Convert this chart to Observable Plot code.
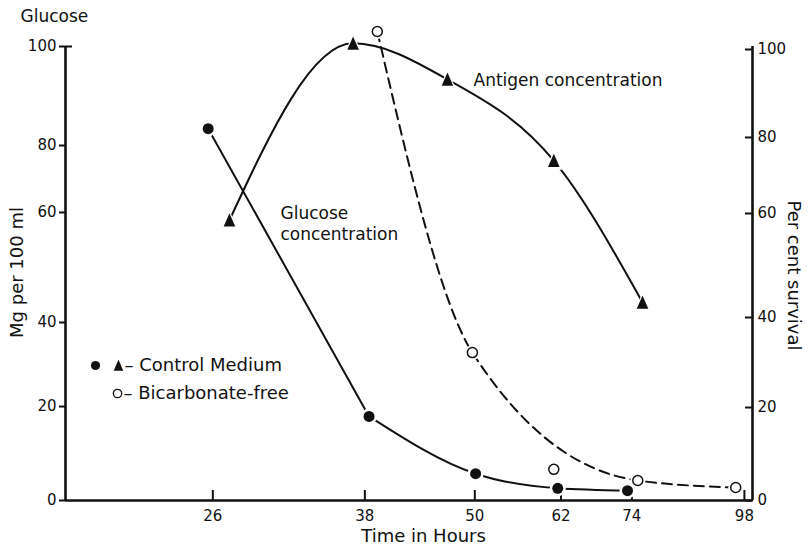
<!DOCTYPE html>
<html>
<head>
<meta charset="utf-8">
<script src="https://cdn.jsdelivr.net/npm/d3@7"></script>
<script src="https://cdn.jsdelivr.net/npm/@observablehq/plot@0.6"></script>
<style>
  html, body { margin: 0; padding: 0; background: #fff; }
  svg { display: block; }
</style>
</head>
<body>
<div id="chart"></div>
<script>
// ---- Tick labels ----
const hoursTicks = [26, 38, 50, 62, 74, 98];
const glucoseTicks = [0, 20, 40, 60, 80, 100];
const survivalTicks = [0, 20, 40, 60, 80, 100];

// ---- Control medium: glucose, mg per 100 ml (left axis) ----
const glucoseHours  = [25.7, 38.4, 50.1, 61.5, 73.2];
const glucoseValues = [83.4, 17.9, 5.7, 2.6, 2.1];

// ---- Control medium: antigen, per cent survival (right axis) ----
const antigenHours  = [27.1, 36.9, 46.7, 60.9, 76.0];
const antigenValues = [58.7, 101.4, 93.2, 73.9, 42.9];

// ---- Bicarbonate-free, per cent survival (right axis) ----
const bicarbHours   = [39.2, 49.7, 60.9, 75.1, 95.9];
const bicarbValues  = [104.1, 32.2, 6.7, 4.3, 2.8];
const bicarbOnCurve = [true, true, false, true, true];

// ---- Scale configuration: the original's hand-drawn axes are unevenly spaced.
// Each axis value is warped onto a common 0-100 plotting scale.
const glucoseTickFrac  = [0, 0.2070, 0.3921, 0.6344, 0.7819, 1.0];   // tick position as fraction of axis height
const survivalTickFrac = [0, 0.2048, 0.4031, 0.6322, 0.7996, 0.9934];

const warpGlucose   = d3.scaleLinear().domain(glucoseTicks).range(glucoseTickFrac.map(f => f * 100));
const warpSurvival  = d3.scaleLinear().domain(survivalTicks).range(survivalTickFrac.map(f => f * 100));

const glucose = glucoseHours.map((h, i) => ({hours: h, value: warpGlucose(glucoseValues[i]), i}));
const antigen = antigenHours.map((h, i) => ({hours: h, value: warpSurvival(antigenValues[i])}));
const bicarb  = bicarbHours.map((h, i) => ({hours: h, value: warpSurvival(bicarbValues[i]), onCurve: bicarbOnCurve[i]}));

// tall filled triangle like the original's markers
const tallTriangle = {
  draw(ctx, size) {
    const s = Math.sqrt(size / Math.PI);
    ctx.moveTo(0, -1.1 * s);
    ctx.lineTo(0.92 * s, 1.0 * s);
    ctx.lineTo(-0.92 * s, 1.0 * s);
    ctx.closePath();
  }
};

const ink = "#111";
const FONT = "DejaVu Sans";

const chart = Plot.plot({
  width: 809,
  height: 549,
  marginLeft: 65,
  marginRight: 57,
  marginTop: 46,
  marginBottom: 49,
  x: {type: "log", domain: [18, 100], axis: null},
  y: {type: "linear", domain: [0, 100], axis: null},
  style: {fontFamily: FONT, fontSize: "15px", color: ink, background: "white"},
  marks: [
    // axis frame lines
    Plot.ruleX([18, 100], {stroke: ink, strokeWidth: 2.6}),
    Plot.ruleY([0], {stroke: ink, strokeWidth: 2.6}),

    // left axis (glucose)
    Plot.axisY(glucoseTicks.map(warpGlucose), {anchor: "left", tickSize: 6, tickPadding: 3, fontSize: 15,
      strokeWidth: 2, tickFormat: d => String(Math.round(warpGlucose.invert(d))), label: null}),
    Plot.axisY([100], {anchor: "left", tickSize: 7, dx: 7, strokeWidth: 2,
      tickFormat: () => "", label: null}),

    // right axis (per cent survival) - ticks point inward
    Plot.axisY(survivalTicks.map(warpSurvival), {anchor: "right", tickSize: 8, dx: -8, tickPadding: 5,
      fontSize: 15, strokeWidth: 2, tickFormat: d => String(Math.round(warpSurvival.invert(d))), label: null}),

    // x axis (time in hours) - ticks point inward
    Plot.axisX(hoursTicks, {anchor: "bottom", tickSize: 10, dy: -10, tickPadding: 10,
      fontSize: 15, strokeWidth: 2, tickFormat: d => String(d), label: null}),

    // curves
    Plot.line(glucose.filter(d => d.i <= 1), {x: "hours", y: "value", stroke: ink, strokeWidth: 2}),
    Plot.line(glucose.filter(d => d.i >= 1), {x: "hours", y: "value", stroke: ink, strokeWidth: 2, curve: "monotone-x"}),
    Plot.line(antigen, {x: "hours", y: "value", stroke: ink, strokeWidth: 2, curve: "monotone-x"}),
    Plot.line(bicarb.filter(d => d.onCurve), {x: "hours", y: "value", stroke: ink, strokeWidth: 2,
      curve: "monotone-x", strokeDasharray: "10,6"}),

    // markers (white halos make the hand-drawn gaps)
    Plot.dot(glucose, {x: "hours", y: "value", r: 8, fill: "white"}),
    Plot.dot(glucose, {x: "hours", y: "value", r: 5.5, fill: ink}),
    Plot.dot(antigen, {x: "hours", y: "value", r: 9, symbol: tallTriangle, fill: "white"}),
    Plot.dot(antigen, {x: "hours", y: "value", r: 6.3, symbol: tallTriangle, fill: ink}),
    Plot.dot(bicarb, {x: "hours", y: "value", r: 7.5, fill: "white"}),
    Plot.dot(bicarb, {x: "hours", y: "value", r: 5, fill: "white", stroke: ink, strokeWidth: 1.5}),

    // annotations
    Plot.text(["Glucose"], {text: d => d, frameAnchor: "top-left", dx: -45, dy: -30,
      textAnchor: "start", lineAnchor: "middle", fontSize: 17}),
    Plot.text(["Mg per 100 ml"], {text: d => d, frameAnchor: "top-left", dx: -48, dy: 226,
      rotate: -90, textAnchor: "middle", lineAnchor: "middle", fontSize: 18}),
    Plot.text(["Per cent survival"], {text: d => d, frameAnchor: "top-left", dx: 728, dy: 229,
      rotate: 90, textAnchor: "middle", lineAnchor: "middle", fontSize: 18}),
    Plot.text(["Time in Hours"], {text: d => d, frameAnchor: "top-left", dx: 358, dy: 490,
      textAnchor: "middle", lineAnchor: "middle", fontSize: 18}),
    Plot.text(["Glucose\nconcentration"], {text: d => d, frameAnchor: "top-left", dx: 215, dy: 176.5,
      textAnchor: "start", lineAnchor: "middle", lineHeight: 1.25, fontSize: 17}),
    Plot.text(["Antigen concentration"], {text: d => d, frameAnchor: "top-left", dx: 408, dy: 34,
      textAnchor: "start", lineAnchor: "middle", fontSize: 17}),

    // legend
    Plot.dot([0], {frameAnchor: "top-left", dx: 30, dy: 319, r: 4.6, fill: ink}),
    Plot.dot([0], {frameAnchor: "top-left", dx: 53, dy: 319, r: 5.2, symbol: tallTriangle, fill: ink}),
    Plot.text(["\u2013 Control Medium"], {text: d => d, frameAnchor: "top-left", dx: 59, dy: 319,
      textAnchor: "start", lineAnchor: "middle", fontSize: 18}),
    Plot.dot([0], {frameAnchor: "top-left", dx: 52, dy: 347, r: 4.2, fill: "white", stroke: ink, strokeWidth: 1.3}),
    Plot.text(["\u2013 Bicarbonate-free"], {text: d => d, frameAnchor: "top-left", dx: 58, dy: 347,
      textAnchor: "start", lineAnchor: "middle", fontSize: 18})
  ]
});

document.getElementById("chart").appendChild(chart);
</script>
</body>
</html>
